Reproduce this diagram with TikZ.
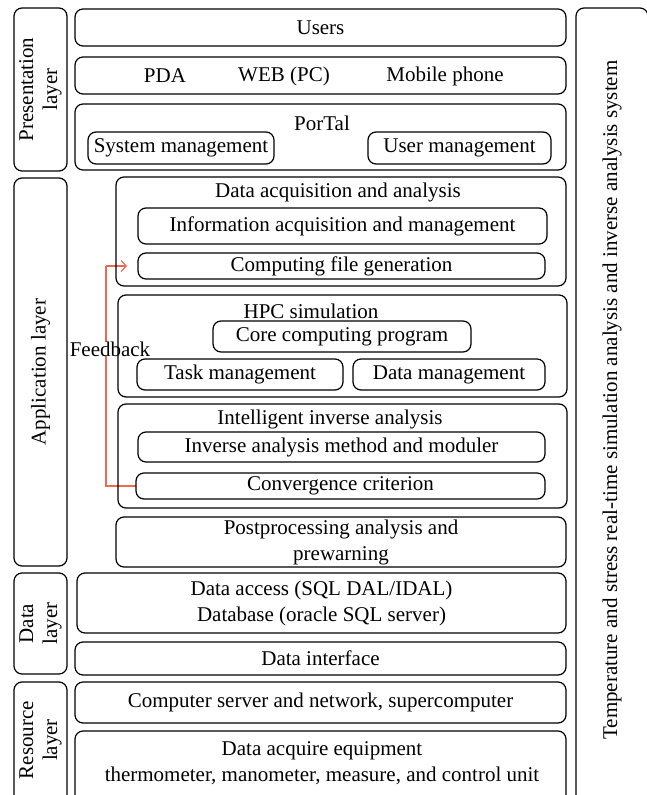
\documentclass[tikz,border=0pt]{standalone}
\usepackage{fontspec}
\setmainfont{Liberation Serif}
\usetikzlibrary{arrows.meta}
\definecolor{fbred}{RGB}{238,106,78}
% rounded box given by its corners (x1,y1)-(x2,y2), y measured downwards
\newcommand\rbox[7][]{%
  \node[blk,#1,minimum width={#5pt-#3pt},minimum height={#6pt-#4pt}]
    (#2) at ({(#3+#5)/2},{(#4+#6)/2}) {#7};}
\begin{document}
\begin{tikzpicture}[x=1pt,y=-1pt,
  blk/.style={draw,line width=1.2pt,rounded corners=8pt,inner sep=0pt,outer sep=0pt,
    align=center,font=\fontsize{21}{26}\selectfont},
  lbl/.style={inner sep=0pt,align=center,font=\fontsize{21}{26}\selectfont},
  vlbl/.style={lbl,rotate=90,font=\fontsize{21}{24}\selectfont},
  feed/.style={draw=fbred,line width=1.2pt}]
\useasboundingbox (0,0) rectangle (646,795);
\fill[white] (0,0) rectangle (646,795);

% feedback loop
\coordinate (fbtip) at (127,266);
\draw[feed] (136,486) -- (106,486) -- (106,266);
\draw[feed,-{Straight Barb[length=5pt,width=11pt]}] (106,266) -- (fbtip);
\node[lbl,fill=white] (feedback) at (110,349) {Feedback};

% layer labels on the left
\rbox{pres}{14}{8}{67}{171}{}
\node[vlbl] (presl) at (pres) {Presentation\\layer};
\rbox{app}{14}{178}{67}{566}{}
\node[vlbl] (appl) at (app) {Application layer};
\rbox{datal}{14}{573}{67}{674}{}
\node[vlbl] (datall) at (datal) {Data\\layer};
\rbox{res}{14}{682}{67}{805}{}
\node[vlbl] (resl) at (40.5,740) {Resource\\layer};

% system box on the right
\rbox{sys}{576}{8}{648}{805}{}
\node[vlbl] (sysl) at (612,400) {Temperature and stress real-time simulation analysis and inverse analysis system};

% presentation layer
\rbox{users}{75}{9}{566}{46}{Users}
\rbox{dev}{75}{57}{566}{94}{}
\node[lbl] (pda) at (165,76) {PDA};
\node[lbl] (web) at (284,76) {WEB (PC)};
\node[lbl] (mob) at (445,76) {Mobile phone};
\rbox{portal}{75}{104}{566}{170}{}
\node[lbl] (portall) at (322,123) {PorTal};
\rbox{sysm}{88}{132}{274}{164}{System management}
\rbox{userm}{368}{132}{551}{164}{User management}

% application layer
\rbox{daa}{116}{177}{566}{286}{}
\node[lbl] (daal) at (338,192) {Data acquisition and analysis};
\rbox{iam}{138}{208}{547}{244}{Information acquisition and management}
\rbox{cfg}{138}{253}{545}{279}{Computing file generation}

\rbox{hpc}{118}{295}{567}{397}{}
\node[lbl] (hpcl) at (311,311) {HPC simulation};
\rbox{ccp}{213}{321}{471}{352}{Core computing program}
\rbox{tm}{137}{359}{343}{390}{Task management}
\rbox{dm}{353}{359}{545}{390}{Data management}

\rbox{iia}{118}{404}{567}{508}{}
\node[lbl] (iial) at (330,419) {Intelligent inverse analysis};
\rbox{iam2}{138}{432}{545}{462}{Inverse analysis method and moduler}
\rbox{cc}{136}{473}{545}{499}{Convergence criterion}

\rbox{post}{116}{517}{566}{567}{Postprocessing analysis and\\prewarning}

% data layer
\rbox{dacc}{77}{573}{566}{633}{Data access (SQL DAL/IDAL)\\Database (oracle SQL server)}
\rbox{dint}{75}{642}{566}{675}{Data interface}

% resource layer
\rbox{csn}{75}{682}{566}{723}{Computer server and network, supercomputer}
\rbox{dae}{75}{731}{566}{805}{}
\node[lbl] (dael) at (322,763) {Data acquire equipment\\thermometer, manometer, measure, and control unit};
\end{tikzpicture}
\end{document}
